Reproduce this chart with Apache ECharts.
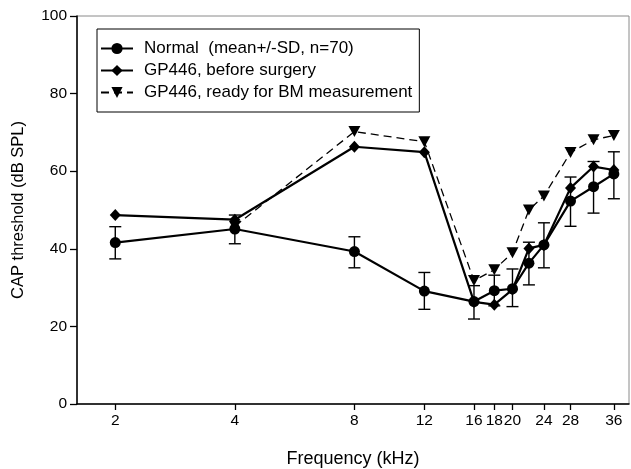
<!DOCTYPE html>
<html>
<head>
<meta charset="utf-8">
<script src="https://cdn.jsdelivr.net/npm/echarts@6/dist/echarts.min.js"></script>
<style>
  html, body { margin: 0; padding: 0; background: #fff; }
  #main { width: 631px; height: 469px; }
</style>
</head>
<body>
<div id="main"></div>
<script>
// frequencies (kHz) and thresholds (dB SPL)
let freqAll = [2, 4, 8, 12, 16, 18, 20, 22, 24, 28, 32, 36];
let normalMean = [41.6, 45.1, 39.3, 29.1, 26.4, 29.2, 29.7, 36.3, 41.0, 52.3, 56.0, 59.3];
let normalHigh = [45.7, 48.7, 43.1, 33.9, 30.5, 33.2, 34.8, 41.7, 46.7, 58.5, 62.5, 65.0];
let normalLow = [37.4, 41.3, 35.1, 24.4, 21.9, 25.3, 25.1, 30.7, 35.1, 45.8, 49.2, 52.9];
let beforeSurgery = [48.7, 47.5, 66.3, 64.9, 26.3, 25.6, 29.5, 40.1, 41.0, 55.7, 61.2, 60.3];
let freqReady = [4, 8, 12, 16, 18, 20, 22, 24, 28, 32, 36];
let readyBM = [45.8, 70.2, 67.6, 31.8, 34.6, 39.0, 50.0, 53.6, 64.8, 68.1, 69.2];
let xTickValues = [2, 4, 8, 12, 16, 18, 20, 24, 28, 36];
let seriesNames = ['Normal  (mean+/-SD, n=70)', 'GP446, before surgery', 'GP446, ready for BM measurement'];

let fontFamily = '"Liberation Sans", Arial, Helvetica, sans-serif';

function pairs(xs, ys) {
  return xs.map(function (x, i) { return [x, ys[i]]; });
}

function createChart() {
  let myChart = echarts.init(document.getElementById('main'), null, { renderer: 'canvas' });
  let errData = freqAll.map(function (f, i) { return [f, normalLow[i], normalHigh[i]]; });

  let option = {
    animation: false,
    backgroundColor: '#fff',
    textStyle: { fontFamily: fontFamily, color: '#000' },
    grid: {
      left: 77, right: 2, top: 16, bottom: 65,
      outerBoundsMode: 'none',
      containLabel: false,
      show: true, borderColor: '#8a8a8a', borderWidth: 1
    },
    legend: {
      data: seriesNames,
      orient: 'vertical',
      left: 97, top: 29,
      padding: [11, 7, 11, 3],
      itemGap: 5,
      itemWidth: 32, itemHeight: 14,
      borderColor: '#000', borderWidth: 1,
      backgroundColor: '#fff',
      textStyle: { fontSize: 17, color: '#000', fontFamily: fontFamily, padding: [0, 0, 0, 6] }
    },
    xAxis: {
      type: 'log',
      logBase: 10,
      min: 1.602,
      max: 39.3,
      name: 'Frequency (kHz)',
      nameLocation: 'middle',
      nameGap: 46,
      nameTextStyle: { fontSize: 18, color: '#000', fontFamily: fontFamily },
      axisLine: { show: true, lineStyle: { color: '#000', width: 1.5 } },
      axisTick: { show: true, inside: false, length: 6, customValues: xTickValues, lineStyle: { color: '#000', width: 1.3 } },
      axisLabel: { show: true, margin: 9, fontSize: 15.5, color: '#000', customValues: xTickValues, formatter: function (v) { return String(Math.round(v)); } },
      splitLine: { show: false },
      minorTick: { show: false }
    },
    yAxis: {
      type: 'value',
      min: 0, max: 100, interval: 20,
      name: 'CAP threshold (dB SPL)',
      nameLocation: 'middle',
      nameGap: 50,
      nameTextStyle: { fontSize: 16.5, color: '#000', fontFamily: fontFamily },
      axisLine: { show: true, lineStyle: { color: '#000', width: 1.5 } },
      axisTick: { show: true, inside: false, length: 7, lineStyle: { color: '#000', width: 1.3 } },
      axisLabel: { margin: 10, fontSize: 15.5, color: '#000' },
      splitLine: { show: false }
    },
    series: [
      {
        name: 'errbars',
        type: 'custom',
        z: 1,
        silent: true,
        data: errData,
        encode: { x: 0, y: [1, 2] },
        renderItem: function (params, api) {
          let x = api.value(0);
          let lo = api.coord([x, api.value(1)]);
          let hi = api.coord([x, api.value(2)]);
          let w = 6;
          let st = { stroke: '#000', lineWidth: 1.4 };
          return {
            type: 'group',
            children: [
              { type: 'line', shape: { x1: lo[0], y1: lo[1], x2: hi[0], y2: hi[1] }, style: st },
              { type: 'line', shape: { x1: lo[0] - w, y1: lo[1], x2: lo[0] + w, y2: lo[1] }, style: st },
              { type: 'line', shape: { x1: hi[0] - w, y1: hi[1], x2: hi[0] + w, y2: hi[1] }, style: st }
            ]
          };
        }
      },
      {
        name: seriesNames[2],
        type: 'line',
        z: 2,
        data: pairs(freqReady, readyBM),
        symbol: 'triangle',
        symbolRotate: 180,
        symbolSize: [12, 11],
        lineStyle: { color: '#000', width: 1.3, type: [8, 5] },
        itemStyle: { color: '#000' }
      },
      {
        name: seriesNames[1],
        type: 'line',
        z: 3,
        data: pairs(freqAll, beforeSurgery),
        symbol: 'diamond',
        symbolSize: [11, 12],
        lineStyle: { color: '#000', width: 2.2 },
        itemStyle: { color: '#000' }
      },
      {
        name: seriesNames[0],
        type: 'line',
        z: 4,
        data: pairs(freqAll, normalMean),
        symbol: 'circle',
        symbolSize: 11,
        lineStyle: { color: '#000', width: 2.2 },
        itemStyle: { color: '#000' }
      }
    ]
  };
  myChart.setOption(option);
}

createChart();
</script>
</body>
</html>
